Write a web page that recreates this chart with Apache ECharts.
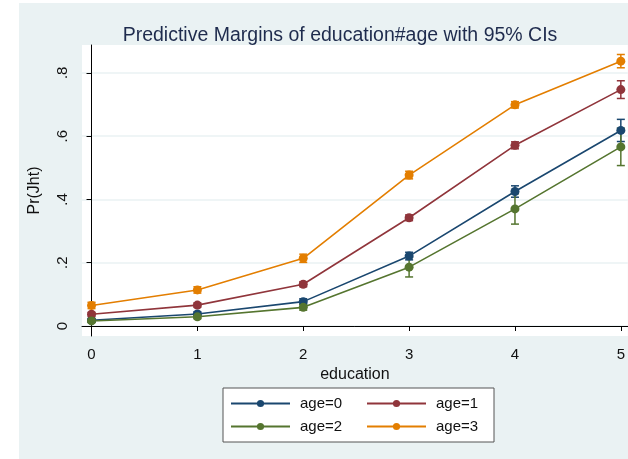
<!DOCTYPE html>
<html>
<head>
<meta charset="utf-8">
<script src="https://cdn.jsdelivr.net/npm/echarts@6/dist/echarts.min.js"></script>
<style>
  html, body { margin: 0; padding: 0; background: #fff; }
  #chart { width: 628px; height: 459px; }
</style>
</head>
<body>
<div id="chart"></div>
<script>
// education levels on the x axis
const education = [0, 1, 2, 3, 4, 5];
const yTicks = [0, 0.2, 0.4, 0.6, 0.8];

// predictive margins and 95% CIs
const age0 = [0.018, 0.038, 0.077, 0.221, 0.425, 0.618];
const age0Lo = [0.012, 0.031, 0.068, 0.209, 0.407, 0.583];
const age0Hi = [0.024, 0.045, 0.086, 0.233, 0.443, 0.653];

const age1 = [0.037, 0.066, 0.132, 0.342, 0.571, 0.747];
const age1Lo = [0.031, 0.059, 0.124, 0.333, 0.560, 0.719];
const age1Hi = [0.043, 0.073, 0.140, 0.351, 0.582, 0.775];

const age2 = [0.016, 0.029, 0.059, 0.186, 0.370, 0.566];
const age2Lo = [0.011, 0.023, 0.050, 0.155, 0.322, 0.507];
const age2Hi = [0.021, 0.035, 0.068, 0.217, 0.418, 0.625];

const age3 = [0.065, 0.114, 0.214, 0.477, 0.699, 0.837];
const age3Lo = [0.055, 0.104, 0.201, 0.465, 0.689, 0.816];
const age3Hi = [0.075, 0.124, 0.227, 0.489, 0.709, 0.858];

const groups = [
  { name: 'age=0', color: '#1a476f', mid: age0, lo: age0Lo, hi: age0Hi },
  { name: 'age=1', color: '#90353b', mid: age1, lo: age1Lo, hi: age1Hi },
  { name: 'age=2', color: '#55752f', mid: age2, lo: age2Lo, hi: age2Hi },
  { name: 'age=3', color: '#e37e00', mid: age3, lo: age3Lo, hi: age3Hi }
];

const font = 'Liberation Sans, Arial, sans-serif';

// error bar with caps
function ciItem(params, api) {
  const x = api.value(0);
  const top = api.coord([x, api.value(2)]);
  const bot = api.coord([x, api.value(1)]);
  const cap = 4;
  const style = { stroke: api.visual('color'), lineWidth: 1.5 };
  return {
    type: 'group',
    children: [
      { type: 'line', shape: { x1: top[0], y1: top[1], x2: bot[0], y2: bot[1] }, style: style },
      { type: 'line', shape: { x1: top[0] - cap, y1: top[1], x2: top[0] + cap, y2: top[1] }, style: style },
      { type: 'line', shape: { x1: bot[0] - cap, y1: bot[1], x2: bot[0] + cap, y2: bot[1] }, style: style }
    ]
  };
}

const series = [];
groups.forEach(g => {
  series.push({
    type: 'custom',
    name: g.name + ' CI',
    renderItem: ciItem,
    itemStyle: { color: g.color },
    data: education.map((e, i) => [e, g.lo[i], g.hi[i]]),
    encode: { x: 0, y: [1, 2] },
    silent: true,
    z: 2
  });
});
groups.forEach(g => {
  series.push({
    type: 'line',
    name: g.name,
    data: education.map((e, i) => [e, g.mid[i]]),
    color: g.color,
    symbol: 'circle',
    symbolSize: 9,
    showAllSymbol: true,
    lineStyle: { width: 1.6, color: g.color },
    itemStyle: { color: g.color },
    animation: false,
    z: 3
  });
});

const chart = echarts.init(document.getElementById('chart'), null, { renderer: 'canvas' });

chart.setOption({
  animation: false,
  backgroundColor: '#ffffff',
  graphic: [{
    type: 'rect',
    left: 19, top: 3,
    shape: { width: 609, height: 456 },
    style: { fill: '#eaf2f3' },
    z: -10
  }],
  title: {
    text: 'Predictive Margins of education#age with 95% CIs',
    left: 335, top: 21, textAlign: 'center',
    textStyle: { fontFamily: font, fontSize: 19.5, fontWeight: 'normal', color: '#1e2b4d' }
  },
  grid: {
    left: 82, top: 45, right: 0, bottom: 123,
    show: true, backgroundColor: '#ffffff', borderWidth: 0
  },
  legend: {
    data: groups.map(g => g.name),
    left: 223, top: 388,
    width: 320,
    orient: 'horizontal',
    itemWidth: 59, itemHeight: 9, itemGap: 8,
    padding: [8, 0, 8, 7],
    backgroundColor: '#ffffff',
    borderColor: '#555555', borderWidth: 1,
    formatter: name => '{a|' + name + '}',
    textStyle: {
      fontFamily: font, fontSize: 15, color: '#111', lineHeight: 14,
      rich: { a: { fontFamily: font, fontSize: 15, color: '#111', lineHeight: 14, width: 58, padding: [0, 0, 0, 5] } }
    }
  },
  xAxis: {
    type: 'value',
    min: -0.09, max: 5.066,
    name: 'education', nameLocation: 'middle', nameGap: 27,
    nameTextStyle: { fontFamily: font, fontSize: 16, color: '#111' },
    axisLine: { show: true, lineStyle: { color: '#000', width: 1 } },
    axisTick: { show: true, length: 5, customValues: education, lineStyle: { color: '#000' } },
    axisLabel: {
      customValues: education, margin: 11,
      fontFamily: font, fontSize: 15, color: '#111',
      formatter: v => String(Math.round(v))
    },
    splitLine: { show: false }
  },
  yAxis: {
    type: 'value',
    min: -0.0316, max: 0.888,
    name: 'Pr(Jht)', nameLocation: 'middle', nameGap: 39, nameRotate: 90,
    nameTextStyle: { fontFamily: font, fontSize: 16, color: '#111' },
    axisLine: { show: true, lineStyle: { color: '#000', width: 1 } },
    axisTick: { show: true, length: 5, customValues: yTicks, lineStyle: { color: '#000' } },
    axisLabel: {
      customValues: yTicks, rotate: 90, margin: 12,
      fontFamily: font, fontSize: 15, color: '#111',
      formatter: v => v === 0 ? '0' : String(Math.round(v * 10) / 10).replace(/^0/, '')
    },
    splitLine: { show: true, lineStyle: { color: '#eaf2f3', width: 1.5 } }
  },
  series: series
});
</script>
</body>
</html>
